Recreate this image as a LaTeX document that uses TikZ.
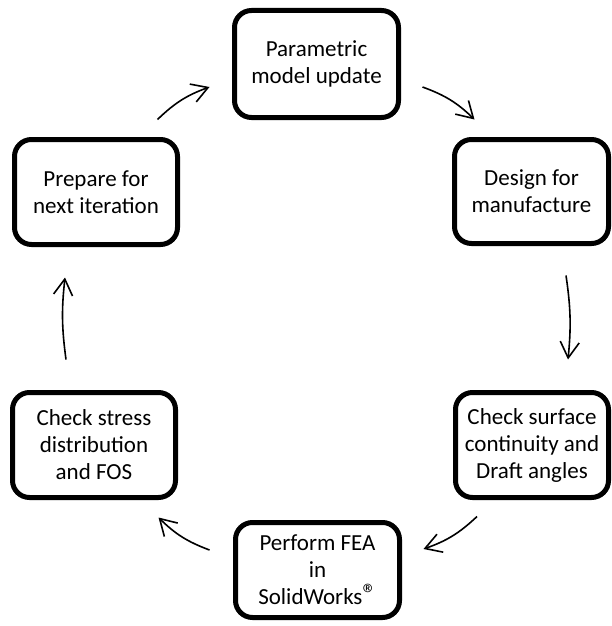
\documentclass[tikz,border=0pt]{standalone}
\usepackage{fontspec}
\setmainfont{Carlito}
\usetikzlibrary{arrows.meta}

\begin{document}
\begin{tikzpicture}[x=1pt,y=-1pt,
   stage/.style={draw,line width=5pt,rounded corners=17pt,align=center,
      inner sep=0pt,font=\fontsize{23}{27}\selectfont},
   flow/.style={line width=1.6pt,-{Straight Barb[length=16pt,width=19pt,line width=1.6pt]}}]
\useasboundingbox (0,0) rectangle (611,626);
% the six stages, clockwise from the top
\node[stage,minimum width=164pt,minimum height=107pt] (param) at (316.5,64) {Parametric\\model update};
\node[stage,minimum width=154pt,minimum height=104pt] (dfm) at (531.5,191.5) {Design for\\manufacture};
\node[stage,minimum width=153pt,minimum height=105pt] (surf) at (532,445) {Check surface\\continuity and\\Draft angles};
\node[stage,minimum width=164pt,minimum height=95pt] (fea) at (317.5,570) {Perform FEA\\in\\SolidWorks\raisebox{1pt}{\fontsize{28}{28}\selectfont®}};
\node[stage,minimum width=163pt,minimum height=105pt] (stress) at (94,445) {Check stress\\distribution\\and FOS};
\node[stage,minimum width=163pt,minimum height=105pt] (prep) at (96,192) {Prepare for\\next iteration};
% arrows
\draw[flow] ([shift={(21.5,23)}]param.east) to[bend left=12] ([shift={(22.5,-17.5)}]dfm.north west);
\draw[flow] ([shift={(34.5,29.5)}]dfm.south) to[bend left=7] ([shift={(36,-30.5)}]surf.north);
\draw[flow] ([shift={(-55,16.5)}]surf.south) to[bend left=12] ([shift={(21.5,-21)}]fea.east);
\draw[flow] ([shift={(-23.5,-20)}]fea.west) to[bend left=12] ([shift={(-19.5,17.5)}]stress.south east);
\draw[flow] ([shift={(-28,-30.5)}]stress.north) to[bend left=7] ([shift={(-31,30.5)}]prep.south);
\draw[flow] ([shift={(-22.5,-17.5)}]prep.north east) to[bend left=12] ([shift={(-22.5,23)}]param.west);
\end{tikzpicture}
\end{document}
